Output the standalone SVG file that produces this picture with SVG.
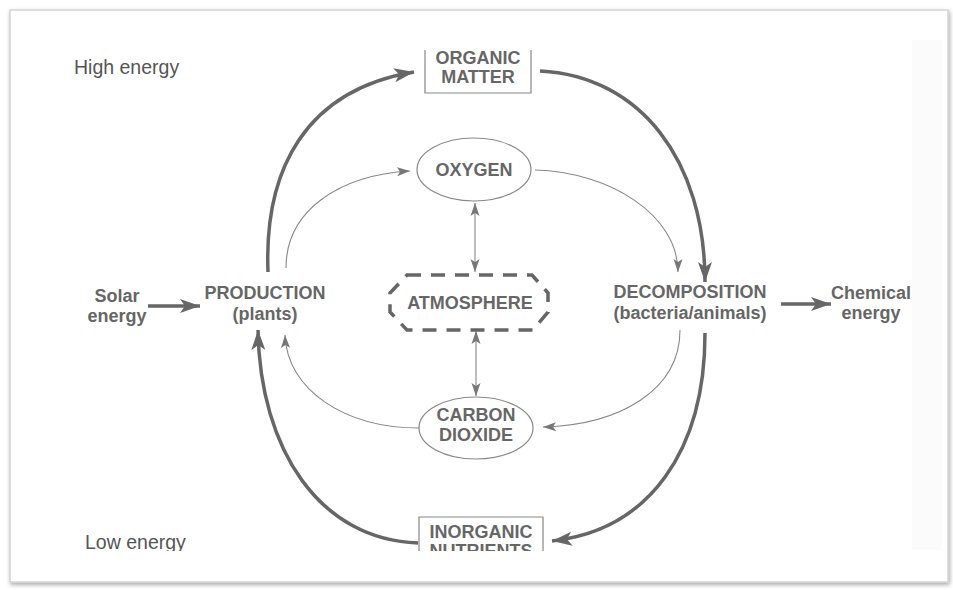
<svg xmlns="http://www.w3.org/2000/svg" width="953" height="590" viewBox="0 0 953 590">
<style>
  .t { font-family: "Liberation Sans", Arial, sans-serif; font-weight: bold; font-size: 18px; fill: #666; text-anchor: middle; }
  .lbl { font-family: "Liberation Sans", Arial, sans-serif; font-size: 19.5px; fill: #555; }
  .thick { fill: none; stroke: #666; stroke-width: 3.5; }
  .thin { fill: none; stroke: #888; stroke-width: 1.1; }
  .box { fill: #fff; stroke: #888; stroke-width: 1.2; }
</style>
<defs>
  <marker id="ah" markerUnits="userSpaceOnUse" markerWidth="22" markerHeight="16" viewBox="0 0 22 16" refX="20" refY="8" orient="auto">
    <path d="M0,1 L20,8 L0,15 L5,8 Z" fill="#666"/>
  </marker>
  <marker id="ahs" markerUnits="userSpaceOnUse" markerWidth="14" markerHeight="10" viewBox="0 0 14 10" refX="13" refY="5" orient="auto-start-reverse">
    <path d="M0,0.5 L13,5 L0,9.5 L3,5 Z" fill="#777"/>
  </marker>
  <clipPath id="clip"><rect x="18" y="18" width="894" height="533"/></clipPath>
  <filter id="sh" x="-5%" y="-5%" width="110%" height="110%">
    <feDropShadow dx="1" dy="2" stdDeviation="2" flood-color="#000" flood-opacity="0.35"/>
  </filter>
</defs>
<rect width="953" height="590" fill="#fff"/>
<rect x="10" y="10" width="938" height="572" fill="#fff" stroke="#d4d4d4" stroke-width="1.5" filter="url(#sh)"/>
<rect x="912" y="40" width="30" height="510" fill="#fbfbfb"/>
<g clip-path="url(#clip)">
  <g id="connectors">
    <path class="thick" d="M268,272 C264,170 305,90 414,72" marker-end="url(#ah)"/>
    <path class="thick" d="M540,71 C640,76 705,160 705,282" marker-end="url(#ah)"/>
    <path class="thick" d="M705,333 C705,450 650,530 552,541" marker-end="url(#ah)"/>
    <path class="thick" d="M418,543 C320,540 260,450 258,330" marker-end="url(#ah)"/>
    <path class="thick" d="M148,306 L200,306" marker-end="url(#ah)"/>
    <path class="thick" d="M781,304 L831,304" marker-end="url(#ah)"/>
    <path class="thin" d="M286,268 C286,210 340,175 410,171" marker-end="url(#ahs)"/>
    <path class="thin" d="M535,170 C610,172 678,215 678,272" marker-end="url(#ahs)"/>
    <path class="thin" d="M680,330 C680,390 620,425 543,427" marker-end="url(#ahs)"/>
    <path class="thin" d="M419,428 C345,428 287,390 285,335" marker-end="url(#ahs)"/>
    <path class="thin" d="M475,203 L475,272" marker-start="url(#ahs)" marker-end="url(#ahs)"/>
    <path class="thin" d="M476,331 L476,396" marker-start="url(#ahs)" marker-end="url(#ahs)"/>
  </g>
  <g id="high-energy"><text class="lbl" x="74" y="74">High energy</text></g>
  <g id="low-energy"><text class="lbl" x="85" y="549">Low energy</text></g>
  <g id="organic-matter">
    <path class="box" d="M425,50 L425,93 L531,93 L531,50"/>
    <text class="t" x="478" y="64">ORGANIC</text>
    <text class="t" x="478" y="83">MATTER</text>
  </g>
  <g id="oxygen">
    <ellipse class="box" cx="474" cy="169.5" rx="57" ry="31.5"/>
    <text class="t" x="474" y="176">OXYGEN</text>
  </g>
  <g id="solar">
    <text class="t" x="117" y="302">Solar</text>
    <text class="t" x="117" y="322">energy</text>
  </g>
  <g id="production">
    <text class="t" x="265" y="299">PRODUCTION</text>
    <text class="t" x="265" y="320">(plants)</text>
  </g>
  <g id="atmosphere">
    <path d="M407,275 L532,275 L548,293 L548,312 L533,330 L407,330 L390,312 L390,293 Z" fill="none" stroke="#666" stroke-width="3.5" stroke-dasharray="14 10"/>
    <text class="t" x="470" y="309">ATMOSPHERE</text>
  </g>
  <g id="decomposition">
    <text class="t" x="690" y="298">DECOMPOSITION</text>
    <text class="t" x="690" y="319">(bacteria/animals)</text>
  </g>
  <g id="chemical">
    <text class="t" x="871" y="299">Chemical</text>
    <text class="t" x="871" y="319">energy</text>
  </g>
  <g id="carbon-dioxide">
    <ellipse class="box" cx="476" cy="428" rx="57" ry="31"/>
    <text class="t" x="476" y="421">CARBON</text>
    <text class="t" x="476" y="441">DIOXIDE</text>
  </g>
  <g id="inorganic-nutrients">
    <path class="box" d="M419,560 L419,517 L543,517 L543,560"/>
    <text class="t" x="481" y="538">INORGANIC</text>
    <text class="t" x="481" y="557">NUTRIENTS</text>
  </g>
</g>
</svg>
